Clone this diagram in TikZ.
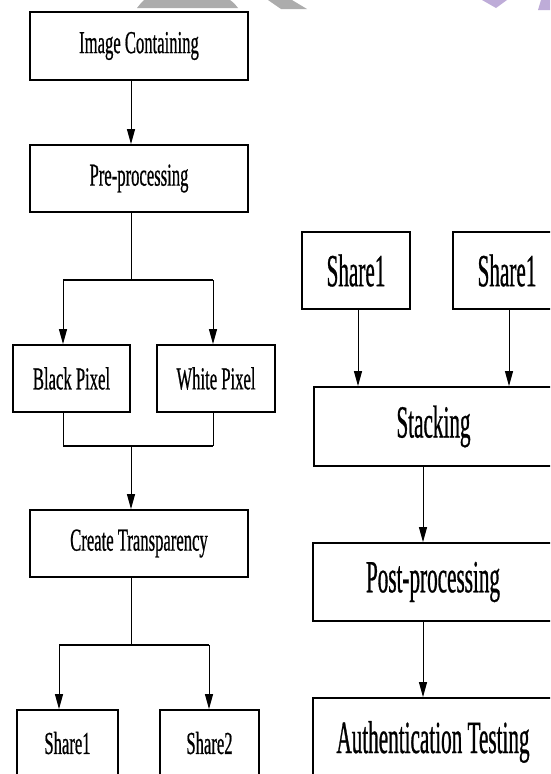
\documentclass[tikz,border=0pt]{standalone}
\usepackage{fontspec}
\setmainfont{Liberation Serif}
\newfontfamily\condl[FakeStretch=0.52,FakeBold=0.6]{Liberation Serif}
\newfontfamily\condr[FakeStretch=0.46,FakeBold=0.6]{Liberation Serif}
\usetikzlibrary{arrows.meta}
\definecolor{wmgray}{RGB}{172,172,172}
\definecolor{wmpurple}{RGB}{190,172,216}
\begin{document}
\begin{tikzpicture}[x=1pt,y=-1pt,
  box/.style={draw, line width=1.8pt, fill=white, inner sep=0pt, anchor=center},
  lbox/.style={box, font=\condl\fontsize{32}{34}\selectfont},
  rbox/.style={box, font=\condr\fontsize{46}{48}\selectfont},
  conn/.style={line width=1pt},
  bar/.style={line width=2pt},
  arr/.style={line width=1pt, -{Triangle[length=15pt,width=8pt]}}]
\useasboundingbox (0,0) rectangle (550,774);
\clip (0,0) rectangle (550,774);
\fill[white] (0,0) rectangle (550,774);
% watermark fragments
\fill[wmgray] (144,0) .. controls (141,3) .. (137,8) -- (238,8) .. controls (234,3) .. (230,0) -- cycle;
\fill[wmgray] (268,0) -- (292,0) -- (307,9) -- (281,9) -- cycle;
\fill[wmpurple] (482,0) -- (507,0) -- (496,8) -- cycle;
\fill[wmpurple] (541,0) -- (550,0) -- (550,10) -- (538,10) -- cycle;
% left column
\node[lbox, minimum width=218pt, minimum height=68pt] (ic) at (139,46) {Image Containing};
\node[lbox, minimum width=218pt, minimum height=67pt] (pp) at (139,178.5) {Pre-processing};
\node[lbox, minimum width=117pt, minimum height=67pt] (bp) at (71.5,378.5) {Black Pixel};
\node[lbox, minimum width=118pt, minimum height=67pt] (wp) at (216,378.5) {White Pixel};
\node[lbox, minimum width=218pt, minimum height=67pt] (ct) at (139,543.5) {Create Transparency};
\node[lbox, minimum width=101pt, minimum height=66pt] (s1) at (67.5,743) {Share1};
\node[lbox, minimum width=99pt, minimum height=66pt] (s2) at (209.5,743) {Share2};
\coordinate (j1) at (131,280);
\coordinate (j1l) at (63,280);
\coordinate (j1r) at (213,280);
\coordinate (j2) at (131,446);
\coordinate (j2l) at (63,446);
\coordinate (j2r) at (213,446);
\coordinate (j3) at (131,645);
\coordinate (j3l) at (59,645);
\coordinate (j3r) at (209,645);
\draw[arr] (ic.south -| j1) -- (pp.north -| j1);
\draw[conn] (pp.south -| j1) -- (j1);
\draw[bar] (j1l) -- (j1r);
\draw[arr] (j1l) -- (j1l |- bp.north);
\draw[arr] (j1r) -- (j1r |- wp.north);
\draw[conn] (bp.south -| j2l) -- (j2l);
\draw[conn] (wp.south -| j2r) -- (j2r);
\draw[bar] (j2l) -- (j2r);
\draw[arr] (j2) -- (ct.north -| j2);
\draw[conn] (ct.south -| j3) -- (j3);
\draw[bar] (j3l) -- (j3r);
\draw[arr] (j3l) -- (j3l |- s1.north);
\draw[arr] (j3r) -- (j3r |- s2.north);
% right column
\node[rbox, minimum width=108pt, minimum height=77pt] (r1) at (356,270.5) {Share1};
\node[rbox, minimum width=108pt, minimum height=77pt] (r2) at (507,270.5) {Share1};
\node[rbox, minimum width=239pt, minimum height=79pt] (st) at (433.5,426.5) {Stacking};
\node[rbox, minimum width=240pt, minimum height=78pt] (po) at (433,582) {Post-processing};
\node[rbox, minimum width=240pt, minimum height=88pt] (au) at (433,742) {Authentication Testing};
\coordinate (k1) at (358,0);
\coordinate (k2) at (509,0);
\coordinate (k3) at (423,0);
\draw[arr] (r1.south -| k1) -- (st.north -| k1);
\draw[arr] (r2.south -| k2) -- (st.north -| k2);
\draw[arr] (st.south -| k3) -- (po.north -| k3);
\draw[arr] (po.south -| k3) -- (au.north -| k3);
\end{tikzpicture}
\end{document}
